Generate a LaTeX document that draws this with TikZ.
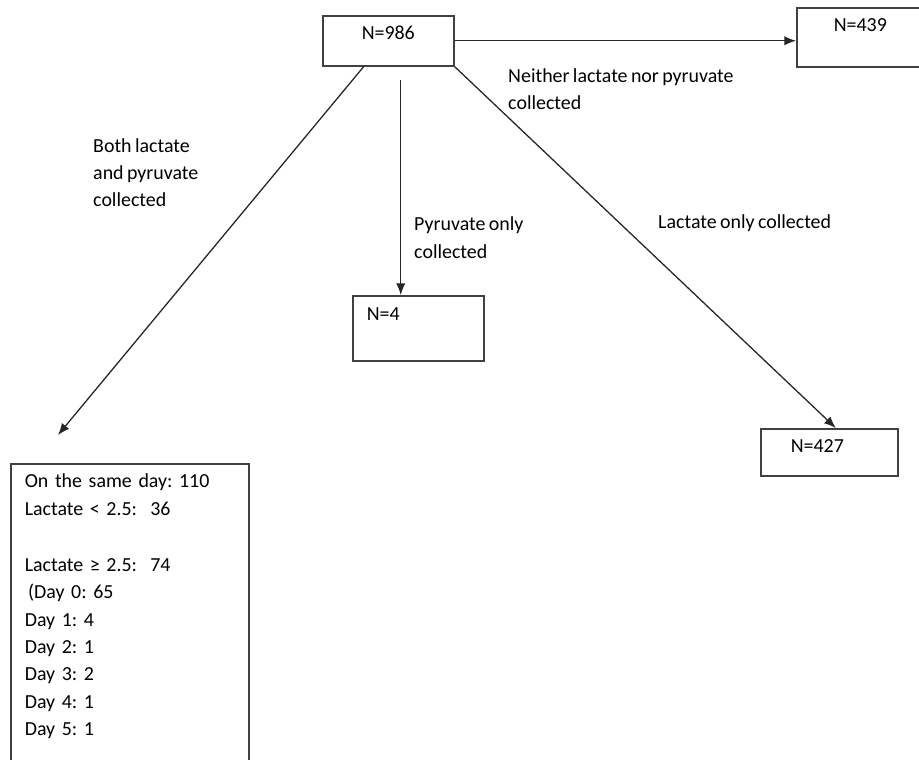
\documentclass[tikz,border=0pt]{standalone}
\usepackage{fontspec}
\setmainfont[WordSpace=0.75]{Carlito}
\usetikzlibrary{arrows.meta,calc}

\tikzstyle{countBox} = [draw=black!75, line width=1.3pt,
    rectangle, anchor=north west, inner ysep=0pt, align=left]
\tikzstyle{branchText} = [anchor=base west, inner sep=0pt, align=left]
\tikzstyle{branchArrow} = [draw=black!85, line width=1.1pt,
    -{Latex[length=10pt,width=8pt]}]

\begin{document}
\begin{tikzpicture}[x=0.03cm, y=-0.03cm, text=black,
    font=\fontsize{17}{23.3}\selectfont\frenchspacing]

\useasboundingbox (0,0) rectangle (919,760);

\node[countBox, inner xsep=1.17cm, text width=1.59cm,
  text height=0.72cm, text depth=0.78cm] (N986) at (322,15) {N=986};
\node[countBox, inner xsep=1.11cm, text width=1.98cm,
  text height=0.72cm, text depth=1.05cm] (N439) at (796,7) {N=439};
\node[countBox, inner xsep=0.42cm, text width=3.09cm,
  text height=0.75cm, text depth=1.2cm] (N4) at (352,295) {N=4};
\node[countBox, inner xsep=0.9cm, text width=2.31cm,
  text height=0.72cm, text depth=0.69cm] (N427) at (760,428) {N=427};
\node[countBox, inner xsep=0.42cm, text width=6.3cm] (SameDay) at (10,463)
  {\rule{0pt}{0.72cm}On the same day: 110\\
   Lactate < 2.5: \ 36\\[25pt]
   Lactate ≥ 2.5: \ 74\\
   \hspace*{0.1cm}(Day 0: 65\\
   Day 1: 4\\
   Day 2: 1\\
   Day 3: 2\\
   Day 4: 1\\
   Day 5: 1\rule[-1cm]{0pt}{0pt}};

% base anchor sits on the last line
\node[branchText] (BothLbl) at (93,207) {Both lactate\\and pyruvate\\collected};
\node[branchText] (NeitherLbl) at (508,110) {Neither lactate nor pyruvate\\collected};
\node[branchText] (PyrLbl) at (414,258) {Pyruvate only\\collected};
\node[branchText] (LacLbl) at (658,229) {Lactate only collected};

\coordinate (pyrTop) at ($(N986.south)+(12.5,13)$);
\coordinate (bothTop) at ($(N986.south)+(-24.5,0)$);
\coordinate (bothEnd) at (58,435);

\draw[branchArrow] (N986.east) -- (N986.east -| N439.west);
\draw[branchArrow] (pyrTop) -- (pyrTop |- N4.north);
\draw[branchArrow] (bothTop) -- (bothEnd);
\draw[branchArrow] (N986.south east) -- ($(N427.north)+(6.5,0)$);
\end{tikzpicture}
\end{document}
